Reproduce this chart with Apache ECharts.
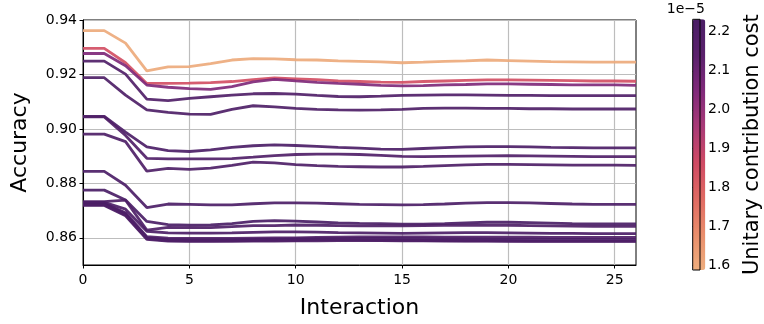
<!DOCTYPE html>
<html>
<head>
<meta charset="utf-8">
<script src="https://cdn.jsdelivr.net/npm/echarts@6/dist/echarts.min.js"></script>
<style>
  html, body { margin: 0; padding: 0; background: #fff; }
  #chart { width: 764px; height: 324px; }
</style>
</head>
<body>
<div id="chart"></div>
<script>
const interactions = [0, 1, 2, 3, 4, 5, 6, 7, 8, 9, 10, 11, 12, 13, 14, 15, 16, 17, 18, 19, 20, 21, 22, 23, 24, 25, 26];

// unitary contribution cost of each run (x 1e-5)
const costs = [1.60, 1.85, 2.05, 2.20, 2.21, 2.22, 2.20, 2.21, 2.22, 2.23, 2.21, 2.22, 2.20, 2.23, 2.22, 2.21];

const run1 = [0.9361, 0.9361, 0.9315, 0.9213, 0.9228, 0.9229, 0.9240, 0.9253, 0.9258, 0.9257, 0.9254, 0.9253, 0.9250, 0.9248, 0.9246, 0.9243, 0.9245, 0.9248, 0.9250, 0.9253, 0.9251, 0.9249, 0.9247, 0.9246, 0.9245, 0.9245, 0.9245];
const run2 = [0.9296, 0.9296, 0.9243, 0.9167, 0.9167, 0.9168, 0.9170, 0.9174, 0.9181, 0.9187, 0.9184, 0.9181, 0.9176, 0.9174, 0.9172, 0.9171, 0.9174, 0.9176, 0.9178, 0.9180, 0.9180, 0.9179, 0.9178, 0.9177, 0.9176, 0.9176, 0.9175];
const run3 = [0.9277, 0.9277, 0.9232, 0.9161, 0.9153, 0.9148, 0.9145, 0.9155, 0.9173, 0.9182, 0.9176, 0.9171, 0.9167, 0.9164, 0.9160, 0.9158, 0.9159, 0.9162, 0.9163, 0.9165, 0.9165, 0.9164, 0.9163, 0.9162, 0.9162, 0.9162, 0.9160];
const run4 = [0.9249, 0.9249, 0.9201, 0.9109, 0.9104, 0.9112, 0.9118, 0.9124, 0.9129, 0.9130, 0.9128, 0.9123, 0.9119, 0.9118, 0.9120, 0.9123, 0.9124, 0.9125, 0.9125, 0.9124, 0.9123, 0.9123, 0.9122, 0.9122, 0.9122, 0.9122, 0.9122];
const run5 = [0.9188, 0.9188, 0.9124, 0.9070, 0.9061, 0.9054, 0.9053, 0.9072, 0.9085, 0.9081, 0.9075, 0.9072, 0.9070, 0.9069, 0.9070, 0.9072, 0.9075, 0.9076, 0.9076, 0.9075, 0.9075, 0.9074, 0.9074, 0.9073, 0.9073, 0.9073, 0.9073];
const run6 = [0.9046, 0.9046, 0.8988, 0.8934, 0.8920, 0.8917, 0.8923, 0.8932, 0.8938, 0.8941, 0.8939, 0.8936, 0.8932, 0.8929, 0.8926, 0.8925, 0.8928, 0.8931, 0.8934, 0.8935, 0.8935, 0.8934, 0.8932, 0.8931, 0.8930, 0.8930, 0.8930];
const run7 = [0.9044, 0.9044, 0.8976, 0.8892, 0.8890, 0.8890, 0.8890, 0.8891, 0.8896, 0.8902, 0.8906, 0.8907, 0.8907, 0.8906, 0.8903, 0.8899, 0.8898, 0.8899, 0.8900, 0.8901, 0.8902, 0.8901, 0.8900, 0.8899, 0.8898, 0.8898, 0.8898];
const run8 = [0.8981, 0.8981, 0.8953, 0.8845, 0.8855, 0.8851, 0.8856, 0.8866, 0.8878, 0.8875, 0.8869, 0.8865, 0.8862, 0.8861, 0.8860, 0.8860, 0.8862, 0.8865, 0.8868, 0.8870, 0.8870, 0.8869, 0.8868, 0.8867, 0.8867, 0.8867, 0.8866];
const run9 = [0.8844, 0.8844, 0.8793, 0.8711, 0.8724, 0.8723, 0.8721, 0.8721, 0.8725, 0.8728, 0.8728, 0.8727, 0.8725, 0.8723, 0.8722, 0.8721, 0.8722, 0.8724, 0.8727, 0.8729, 0.8729, 0.8728, 0.8726, 0.8724, 0.8723, 0.8723, 0.8723];
const run10 = [0.8775, 0.8775, 0.8739, 0.8660, 0.8648, 0.8646, 0.8647, 0.8652, 0.8660, 0.8663, 0.8661, 0.8658, 0.8655, 0.8653, 0.8652, 0.8650, 0.8650, 0.8652, 0.8655, 0.8657, 0.8657, 0.8656, 0.8654, 0.8652, 0.8651, 0.8651, 0.8651];
const run11 = [0.8733, 0.8733, 0.8738, 0.8628, 0.8638, 0.8637, 0.8637, 0.8641, 0.8645, 0.8645, 0.8647, 0.8646, 0.8645, 0.8644, 0.8644, 0.8644, 0.8645, 0.8646, 0.8646, 0.8646, 0.8646, 0.8645, 0.8644, 0.8643, 0.8642, 0.8642, 0.8642];
const run12 = [0.8730, 0.8730, 0.8705, 0.8624, 0.8618, 0.8617, 0.8617, 0.8618, 0.8620, 0.8622, 0.8622, 0.8621, 0.8619, 0.8618, 0.8617, 0.8616, 0.8617, 0.8618, 0.8619, 0.8619, 0.8618, 0.8617, 0.8616, 0.8616, 0.8615, 0.8615, 0.8615];
const run13 = [0.8727, 0.8727, 0.8692, 0.8604, 0.8599, 0.8598, 0.8598, 0.8598, 0.8599, 0.8600, 0.8600, 0.8601, 0.8602, 0.8603, 0.8603, 0.8603, 0.8603, 0.8602, 0.8602, 0.8602, 0.8602, 0.8602, 0.8601, 0.8601, 0.8601, 0.8601, 0.8601];
const run14 = [0.8724, 0.8724, 0.8688, 0.8600, 0.8594, 0.8592, 0.8592, 0.8593, 0.8594, 0.8595, 0.8596, 0.8597, 0.8597, 0.8598, 0.8598, 0.8597, 0.8597, 0.8596, 0.8596, 0.8595, 0.8595, 0.8595, 0.8594, 0.8594, 0.8593, 0.8593, 0.8593];
const run15 = [0.8721, 0.8721, 0.8684, 0.8597, 0.8590, 0.8589, 0.8589, 0.8590, 0.8590, 0.8591, 0.8591, 0.8592, 0.8592, 0.8592, 0.8591, 0.8591, 0.8590, 0.8590, 0.8589, 0.8589, 0.8589, 0.8588, 0.8588, 0.8588, 0.8588, 0.8588, 0.8588];
const run16 = [0.8719, 0.8719, 0.8681, 0.8594, 0.8588, 0.8587, 0.8587, 0.8587, 0.8588, 0.8588, 0.8589, 0.8589, 0.8590, 0.8590, 0.8590, 0.8589, 0.8589, 0.8588, 0.8588, 0.8588, 0.8587, 0.8587, 0.8587, 0.8587, 0.8587, 0.8587, 0.8587];

const runs = [run1, run2, run3, run4, run5, run6, run7, run8, run9, run10, run11, run12, run13, run14, run15, run16];

const xTicks = [0, 5, 10, 15, 20, 25];
const yTicks = [0.86, 0.88, 0.90, 0.92, 0.94];
const cbTicks = [1.6, 1.7, 1.8, 1.9, 2.0, 2.1, 2.2];

const costMin = 1.589;
const costMax = 2.232;
// magma-like, light end first
const palette = ['#eeae7e', '#e98d6b', '#e06a63', '#cf4a64', '#a93a77', '#80297a', '#5a216c', '#4a1e66'];

const font = 'DejaVu Sans';

const chart = echarts.init(document.getElementById('chart'), null, { renderer: 'canvas' });

const lineSeries = runs.map((run, i) => ({
  type: 'line',
  xAxisIndex: 0,
  yAxisIndex: 0,
  data: interactions.map((x, j) => [x, run[j]]),
  showSymbol: false,
  silent: true,
  lineStyle: {
    width: 2.8,
    opacity: 0.92,
    color: echarts.color.lerp((costs[i] - costMin) / (costMax - costMin), palette),
  },
  z: 3,
}));

const option = {
  animation: false,
  textStyle: { fontFamily: font, color: '#000' },
  title: {
    text: '1e\u22125',
    right: 59,
    top: 2,
    padding: 0,
    textStyle: { fontFamily: font, fontSize: 14, fontWeight: 'normal', color: '#000' },
  },
  grid: [
    { left: 83, right: 128, top: 20, bottom: 55, show: true, borderColor: '#000', borderWidth: 1, backgroundColor: 'transparent' },
    { left: 692.7, top: 19.3, width: 12.6, height: 250.7, show: true, borderColor: '#000', borderWidth: 1, backgroundColor: 'transparent', z: 10 },
  ],
  xAxis: [
    {
      type: 'value',
      gridIndex: 0,
      min: 0,
      max: 26,
      name: 'Interaction',
      nameLocation: 'middle',
      nameGap: 32,
      nameTextStyle: { fontFamily: font, fontSize: 22, color: '#000' },
      axisLine: { show: true, lineStyle: { color: '#000', width: 1 } },
      axisTick: { show: true, inside: false, length: 3.5, lineStyle: { color: '#000' }, customValues: xTicks },
      axisLabel: { fontFamily: font, fontSize: 14, color: '#000', margin: 8, customValues: xTicks },
      splitLine: { show: true, lineStyle: { color: '#bdbdbd', width: 1.2 } },
    },
    { type: 'value', gridIndex: 1, min: 0, max: 1, show: false },
  ],
  yAxis: [
    {
      type: 'value',
      gridIndex: 0,
      min: 0.85,
      max: 0.94,
      name: 'Accuracy',
      nameLocation: 'middle',
      nameGap: 52,
      nameRotate: 90,
      nameTextStyle: { fontFamily: font, fontSize: 22, color: '#000' },
      axisLine: { show: true, lineStyle: { color: '#000', width: 1 } },
      axisTick: { show: true, inside: false, length: 3.5, lineStyle: { color: '#000' }, customValues: yTicks },
      axisLabel: { fontFamily: font, fontSize: 14, color: '#000', margin: 6, customValues: yTicks, formatter: (v) => v.toFixed(2) },
      splitLine: { show: true, lineStyle: { color: '#bdbdbd', width: 1.2 } },
    },
    {
      type: 'value',
      gridIndex: 1,
      position: 'right',
      min: costMin,
      max: costMax,
      axisLine: { show: false },
      axisTick: { show: true, inside: false, length: 3.5, lineStyle: { color: '#000' }, customValues: cbTicks },
      axisLabel: { fontFamily: font, fontSize: 14, color: '#000', margin: 8, customValues: cbTicks, formatter: (v) => v.toFixed(1) },
      splitLine: { show: false },
    },
    {
      type: 'value',
      gridIndex: 1,
      position: 'right',
      min: costMin,
      max: costMax,
      name: 'Unitary contribution cost',
      nameLocation: 'middle',
      nameGap: 42,
      nameRotate: 90,
      nameTextStyle: { fontFamily: font, fontSize: 21, color: '#000' },
      axisLine: { show: false },
      axisTick: { show: false },
      axisLabel: { show: false },
      splitLine: { show: false },
    },
  ],
  visualMap: {
    type: 'continuous',
    seriesIndex: [],
    min: costMin,
    max: costMax,
    left: 692.7,
    top: 19.3,
    itemWidth: 12.6,
    itemHeight: 250.7,
    padding: 0,
    calculable: false,
    text: null,
    showLabel: false,
    inRange: { color: palette },
  },
  series: lineSeries,
};

chart.setOption(option);
</script>
</body>
</html>
